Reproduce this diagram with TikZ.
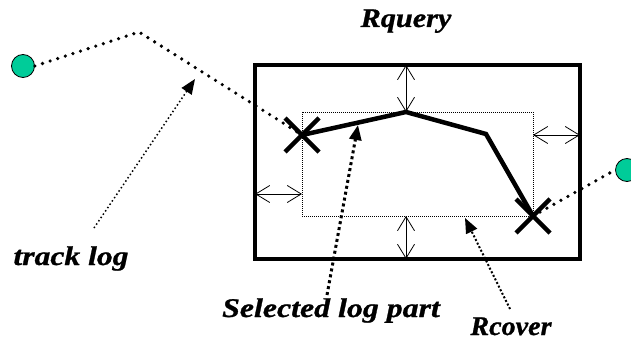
\documentclass[tikz,border=0pt]{standalone}
\usepackage{fontspec}
\setmainfont{Liberation Serif}
\newfontfamily\lblfont[FakeBold=0.9]{Liberation Serif}
\usetikzlibrary{arrows.meta,calc}
\definecolor{dotgreen}{RGB}{0,204,153}
\begin{document}
\begin{tikzpicture}[x=1pt,y=-1pt,
  lbl/.style={font=\lblfont\bfseries\itshape\fontsize{27}{27}\selectfont, inner sep=0pt, anchor=base},
  endpt/.style={circle, draw=black, line width=0.8pt, fill=dotgreen, minimum size=23pt, inner sep=0pt},
  trackdots/.style={line width=3.6pt, line cap=round, dash pattern=on 0pt off 8pt},
  trackline/.style={line width=4.5pt, line join=miter},
  xmark/.style={line width=4.5pt},
  dbl/.style={line width=0.8pt, {Straight Barb[length=14pt,width=17pt]}-{Straight Barb[length=14pt,width=17pt]}},
  pointer/.style={-{Triangle[length=15pt,width=12pt]}}
]
\useasboundingbox (0,0) rectangle (631,342);
% rectangles
\draw[line width=4pt] (255,65) rectangle (580,259);
\draw[line width=0.8pt, dash pattern=on 1pt off 1pt] (302,112) rectangle (533,216);
% points
\node[endpt] (start) at (23,66) {};
\node[endpt] (end) at (627,170) {};
\coordinate (bend) at (139,32);
\coordinate (x1) at (302,135);
\coordinate (p2) at (406,112);
\coordinate (p3) at (486,134);
\coordinate (x2) at (533,216);
\draw[trackdots] (start.east) -- (bend) -- (x1);
\draw[trackdots] (x2) -- (end.west);
\draw[trackline] (x1) -- (p2) -- (p3) -- (x2);
\draw[xmark] ($(x1)+(-17,-17)$) -- ($(x1)+(17,17)$) ($(x1)+(-17,17)$) -- ($(x1)+(17,-17)$);
\draw[xmark] ($(x2)+(-17,-17)$) -- ($(x2)+(17,17)$) ($(x2)+(-17,17)$) -- ($(x2)+(17,-17)$);
% double arrows
\coordinate (topA) at (406,65);
\coordinate (botA) at (406,259);
\coordinate (botB) at (406,216);
\coordinate (lA) at (255,194);
\coordinate (lB) at (302,194);
\coordinate (rA) at (533,135);
\coordinate (rB) at (580,135);
\draw[dbl] (topA) -- (p2);
\draw[dbl] (botB) -- (botA);
\draw[dbl] (lA) -- (lB);
\draw[dbl] (rA) -- (rB);
% labels
\node[lbl] (rquery) at (406,27) {\scalebox{1.12}[1]{Rquery}};
\node[lbl] (tracklog) at (71,265) {\scalebox{1.17}[1]{track log}};
\node[lbl] (sel) at (331,317) {\scalebox{1.18}[1]{Selected log part}};
\node[lbl] (rcover) at (511,335) {\scalebox{1.04}[1]{Rcover}};
% pointers
\coordinate (tlTail) at (94,228);
\coordinate (tlTip) at (195,79);
\coordinate (selTail) at (327,295);
\coordinate (selTip) at (358,125);
\coordinate (rcTail) at (510,309);
\coordinate (rcTip) at (465,218);
\draw[pointer, line width=1.5pt, dash pattern=on 1.5pt off 2.5pt] (tlTail) -- (tlTip);
\draw[pointer, line width=3pt, dash pattern=on 3pt off 3pt] (selTail) -- (selTip);
\draw[pointer, line width=2pt, dash pattern=on 2pt off 2pt] (rcTail) -- (rcTip);
\end{tikzpicture}
\end{document}
